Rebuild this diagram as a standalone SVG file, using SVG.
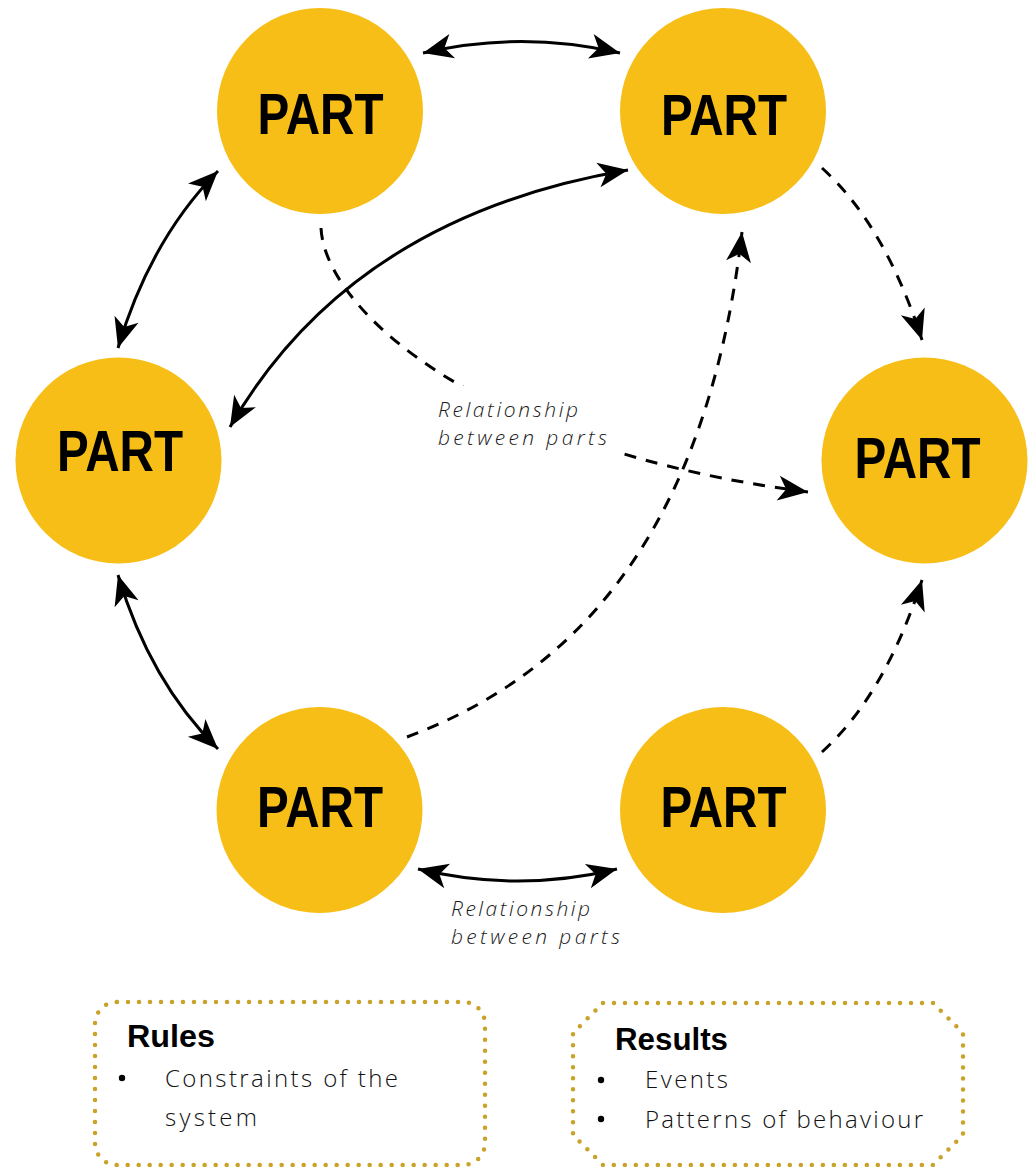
<svg xmlns="http://www.w3.org/2000/svg" width="1033" height="1167" viewBox="0 0 1033 1167">
<style>
.node circle{fill:#F6BE17}
.part{font-family:"Liberation Sans",Arial,sans-serif;font-weight:bold;font-size:57px;fill:#000;text-anchor:middle}
.solid{fill:none;stroke:#000;stroke-width:3}
.dash{fill:none;stroke:#000;stroke-width:3;stroke-dasharray:12 10}
.lbl{font-family:"Open Sans","Liberation Sans",sans-serif;font-style:italic;font-weight:300;font-size:21px;fill:#1a1a1a}
.box{fill:none;stroke:#C9A227;stroke-width:4.5;stroke-linecap:round;stroke-dasharray:0 11}
.title{font-family:"Liberation Sans",Arial,sans-serif;font-weight:bold;font-size:32px;fill:#000}
.item{font-family:"Open Sans","Liberation Sans",sans-serif;font-weight:300;font-size:24px;fill:#111}
</style>
<defs>
<marker id="ah" markerUnits="userSpaceOnUse" markerWidth="32" markerHeight="28" viewBox="0 -14 32 28" refX="30" refY="0" orient="auto-start-reverse" overflow="visible">
<path d="M0,-12.5 L30,0 L0,12.5 L8,0 Z" fill="#000"/>
</marker>
</defs>
<rect width="1033" height="1167" fill="#fff"/>
<g id="connectors">
<path class="solid" d="M423,53 Q521,30 620,53" marker-start="url(#ah)" marker-end="url(#ah)"/>
<path class="solid" d="M118,348 Q150,240 218,171" marker-start="url(#ah)" marker-end="url(#ah)"/>
<path class="solid" d="M230,427 Q351,217 628,170" marker-start="url(#ah)" marker-end="url(#ah)"/>
<path class="solid" d="M118,575 Q150,682 218,749" marker-start="url(#ah)" marker-end="url(#ah)"/>
<path class="solid" d="M418,869 Q518,893 617,869" marker-start="url(#ah)" marker-end="url(#ah)"/>
<path class="dash" d="M321,228 C325,310 480,450 808,492" marker-end="url(#ah)"/>
<path class="dash" d="M407,737 C560,680 705,550 742,232" marker-end="url(#ah)"/>
<path class="dash" d="M822,168 Q885,225 922,340" marker-end="url(#ah)"/>
<path class="dash" d="M822,752 Q885,695 922,580" marker-end="url(#ah)"/>
</g>
<g id="label1">
<rect x="432" y="386" width="184" height="72" fill="#fff"/>
<text class="lbl" x="438" y="417" textLength="140" lengthAdjust="spacing">Relationship</text>
<text class="lbl" x="438" y="445" textLength="169" lengthAdjust="spacing">between parts</text>
</g>
<g id="label2">
<text class="lbl" x="451" y="916" textLength="139" lengthAdjust="spacing">Relationship</text>
<text class="lbl" x="451" y="944" textLength="169" lengthAdjust="spacing">between parts</text>
</g>
<g id="part-top-left" class="node"><circle cx="320" cy="111" r="103"/><text class="part" x="320.5" y="134" textLength="126" lengthAdjust="spacingAndGlyphs">PART</text></g>
<g id="part-top-right" class="node"><circle cx="723" cy="111" r="103"/><text class="part" x="724" y="135" textLength="126" lengthAdjust="spacingAndGlyphs">PART</text></g>
<g id="part-left" class="node"><circle cx="118.5" cy="460.5" r="103"/><text class="part" x="120" y="471" textLength="126" lengthAdjust="spacingAndGlyphs">PART</text></g>
<g id="part-right" class="node"><circle cx="924.5" cy="460.5" r="103"/><text class="part" x="917.5" y="478" textLength="126" lengthAdjust="spacingAndGlyphs">PART</text></g>
<g id="part-bottom-left" class="node"><circle cx="319.5" cy="810" r="103"/><text class="part" x="320" y="827" textLength="126" lengthAdjust="spacingAndGlyphs">PART</text></g>
<g id="part-bottom-right" class="node"><circle cx="723" cy="810" r="103"/><text class="part" x="723.5" y="827" textLength="126" lengthAdjust="spacingAndGlyphs">PART</text></g>
<g id="rules">
<rect class="box" x="95" y="1002" width="390" height="163" rx="22"/>
<text class="title" x="127" y="1047" textLength="88" lengthAdjust="spacingAndGlyphs">Rules</text>
<circle cx="122" cy="1078" r="3.2" fill="#000"/>
<text class="item" x="165" y="1087" textLength="233" lengthAdjust="spacing">Constraints of the</text>
<text class="item" x="165" y="1126" textLength="92" lengthAdjust="spacing">system</text>
</g>
<g id="results">
<path class="box" d="M603,1003 H933 L963,1033 V1135 L933,1165 H603 L573,1135 V1033 Z"/>
<text class="title" x="615" y="1050" textLength="113" lengthAdjust="spacingAndGlyphs">Results</text>
<circle cx="601" cy="1080" r="3.2" fill="#000"/>
<text class="item" x="645" y="1088" textLength="83" lengthAdjust="spacing">Events</text>
<circle cx="601" cy="1119" r="3.2" fill="#000"/>
<text class="item" x="645" y="1128" textLength="278" lengthAdjust="spacing">Patterns of behaviour</text>
</g>
</svg>
